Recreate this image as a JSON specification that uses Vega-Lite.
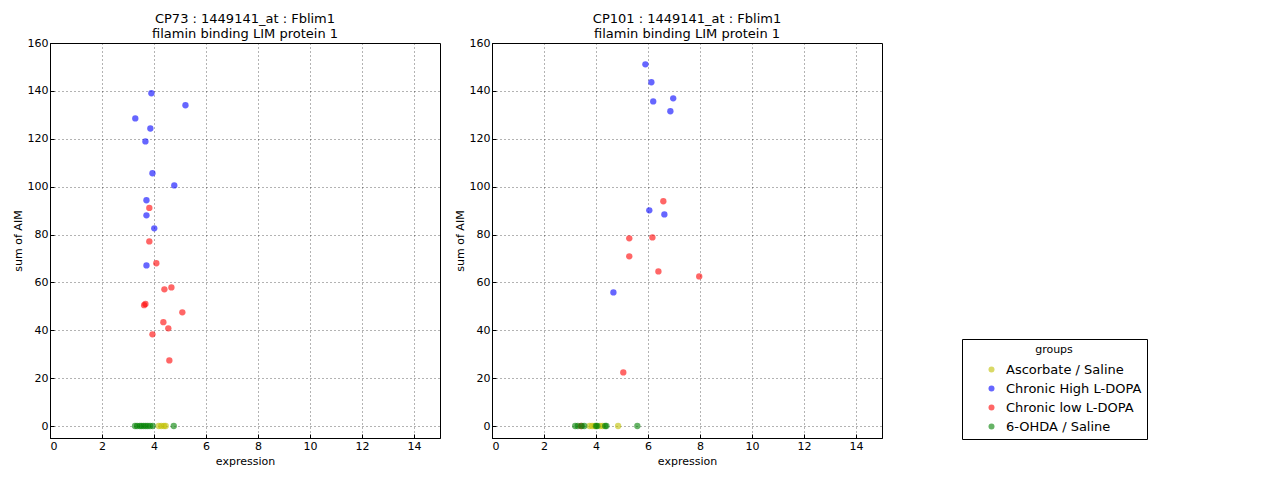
{
  "$schema": "https://vega.github.io/schema/vega-lite/v6.json",
  "background": "white",
  "padding": {"left": 11, "top": 12, "right": 5, "bottom": 5},
  "config": {
    "font": "DejaVu Sans",
    "view": {"stroke": "black", "strokeWidth": 1},
    "axis": {
      "domainColor": "black",
      "labelFont": "DejaVu Sans",
      "labelFontSize": 11,
      "labelColor": "black",
      "titleFont": "DejaVu Sans",
      "titleFontSize": 11,
      "titleFontWeight": "normal",
      "titleColor": "black",
      "gridColor": "black",
      "gridDash": [1, 3],
      "gridOpacity": 0.6,
      "tickColor": "black",
      "tickSize": -4,
      "labelPadding": 6
    },
    "axisY": {"titlePadding": 4},
    "title": {"font": "DejaVu Sans", "fontSize": 13, "fontWeight": "normal", "color": "black", "lineHeight": 15, "offset": -4},
    "concat": {"spacing": 12}
  },
  "data": {
    "values": [
      {"panel": "CP73", "group": "Chronic High L-DOPA", "expression": 3.90, "aim": 139.0},
      {"panel": "CP73", "group": "Chronic High L-DOPA", "expression": 5.21, "aim": 134.0},
      {"panel": "CP73", "group": "Chronic High L-DOPA", "expression": 3.28, "aim": 128.5},
      {"panel": "CP73", "group": "Chronic High L-DOPA", "expression": 3.86, "aim": 124.3},
      {"panel": "CP73", "group": "Chronic High L-DOPA", "expression": 3.67, "aim": 118.9},
      {"panel": "CP73", "group": "Chronic High L-DOPA", "expression": 3.94, "aim": 105.6},
      {"panel": "CP73", "group": "Chronic High L-DOPA", "expression": 4.78, "aim": 100.5},
      {"panel": "CP73", "group": "Chronic High L-DOPA", "expression": 3.71, "aim": 94.3},
      {"panel": "CP73", "group": "Chronic High L-DOPA", "expression": 3.71, "aim": 88.0},
      {"panel": "CP73", "group": "Chronic High L-DOPA", "expression": 4.01, "aim": 82.6},
      {"panel": "CP73", "group": "Chronic High L-DOPA", "expression": 3.71, "aim": 67.1},
      {"panel": "CP73", "group": "Chronic low L-DOPA", "expression": 3.82, "aim": 91.1},
      {"panel": "CP73", "group": "Chronic low L-DOPA", "expression": 3.82, "aim": 77.1},
      {"panel": "CP73", "group": "Chronic low L-DOPA", "expression": 4.09, "aim": 68.0},
      {"panel": "CP73", "group": "Chronic low L-DOPA", "expression": 4.67, "aim": 57.9},
      {"panel": "CP73", "group": "Chronic low L-DOPA", "expression": 4.40, "aim": 57.1},
      {"panel": "CP73", "group": "Chronic low L-DOPA", "expression": 3.62, "aim": 50.5},
      {"panel": "CP73", "group": "Chronic low L-DOPA", "expression": 3.67, "aim": 51.0},
      {"panel": "CP73", "group": "Chronic low L-DOPA", "expression": 5.09, "aim": 47.5},
      {"panel": "CP73", "group": "Chronic low L-DOPA", "expression": 4.36, "aim": 43.4},
      {"panel": "CP73", "group": "Chronic low L-DOPA", "expression": 4.55, "aim": 40.8},
      {"panel": "CP73", "group": "Chronic low L-DOPA", "expression": 3.94, "aim": 38.3},
      {"panel": "CP73", "group": "Chronic low L-DOPA", "expression": 4.59, "aim": 27.4},
      {"panel": "CP73", "group": "Ascorbate / Saline", "expression": 4.18, "aim": 0},
      {"panel": "CP73", "group": "Ascorbate / Saline", "expression": 4.28, "aim": 0},
      {"panel": "CP73", "group": "Ascorbate / Saline", "expression": 4.38, "aim": 0},
      {"panel": "CP73", "group": "Ascorbate / Saline", "expression": 4.45, "aim": 0},
      {"panel": "CP73", "group": "6-OHDA / Saline", "expression": 3.27, "aim": 0},
      {"panel": "CP73", "group": "6-OHDA / Saline", "expression": 3.35, "aim": 0},
      {"panel": "CP73", "group": "6-OHDA / Saline", "expression": 3.45, "aim": 0},
      {"panel": "CP73", "group": "6-OHDA / Saline", "expression": 3.52, "aim": 0},
      {"panel": "CP73", "group": "6-OHDA / Saline", "expression": 3.60, "aim": 0},
      {"panel": "CP73", "group": "6-OHDA / Saline", "expression": 3.68, "aim": 0},
      {"panel": "CP73", "group": "6-OHDA / Saline", "expression": 3.76, "aim": 0},
      {"panel": "CP73", "group": "6-OHDA / Saline", "expression": 3.85, "aim": 0},
      {"panel": "CP73", "group": "6-OHDA / Saline", "expression": 3.95, "aim": 0},
      {"panel": "CP73", "group": "6-OHDA / Saline", "expression": 4.76, "aim": 0},
      {"panel": "CP101", "group": "Chronic High L-DOPA", "expression": 5.90, "aim": 151.1},
      {"panel": "CP101", "group": "Chronic High L-DOPA", "expression": 6.13, "aim": 143.6},
      {"panel": "CP101", "group": "Chronic High L-DOPA", "expression": 6.20, "aim": 135.6},
      {"panel": "CP101", "group": "Chronic High L-DOPA", "expression": 6.97, "aim": 136.9},
      {"panel": "CP101", "group": "Chronic High L-DOPA", "expression": 6.86, "aim": 131.5},
      {"panel": "CP101", "group": "Chronic High L-DOPA", "expression": 6.05, "aim": 90.1},
      {"panel": "CP101", "group": "Chronic High L-DOPA", "expression": 6.63, "aim": 88.4},
      {"panel": "CP101", "group": "Chronic High L-DOPA", "expression": 4.67, "aim": 55.8},
      {"panel": "CP101", "group": "Chronic low L-DOPA", "expression": 6.59, "aim": 93.9},
      {"panel": "CP101", "group": "Chronic low L-DOPA", "expression": 5.28, "aim": 78.4},
      {"panel": "CP101", "group": "Chronic low L-DOPA", "expression": 6.17, "aim": 78.8},
      {"panel": "CP101", "group": "Chronic low L-DOPA", "expression": 5.28, "aim": 70.9},
      {"panel": "CP101", "group": "Chronic low L-DOPA", "expression": 6.40, "aim": 64.6},
      {"panel": "CP101", "group": "Chronic low L-DOPA", "expression": 7.97, "aim": 62.5},
      {"panel": "CP101", "group": "Chronic low L-DOPA", "expression": 5.05, "aim": 22.4},
      {"panel": "CP101", "group": "Chronic low L-DOPA", "expression": 3.42, "aim": 0},
      {"panel": "CP101", "group": "Ascorbate / Saline", "expression": 3.75, "aim": 0},
      {"panel": "CP101", "group": "Ascorbate / Saline", "expression": 3.85, "aim": 0},
      {"panel": "CP101", "group": "Ascorbate / Saline", "expression": 3.95, "aim": 0},
      {"panel": "CP101", "group": "Ascorbate / Saline", "expression": 4.15, "aim": 0},
      {"panel": "CP101", "group": "Ascorbate / Saline", "expression": 4.25, "aim": 0},
      {"panel": "CP101", "group": "Ascorbate / Saline", "expression": 4.85, "aim": 0},
      {"panel": "CP101", "group": "6-OHDA / Saline", "expression": 3.20, "aim": 0},
      {"panel": "CP101", "group": "6-OHDA / Saline", "expression": 3.30, "aim": 0},
      {"panel": "CP101", "group": "6-OHDA / Saline", "expression": 3.45, "aim": 0},
      {"panel": "CP101", "group": "6-OHDA / Saline", "expression": 3.55, "aim": 0},
      {"panel": "CP101", "group": "6-OHDA / Saline", "expression": 4.00, "aim": 0},
      {"panel": "CP101", "group": "6-OHDA / Saline", "expression": 4.05, "aim": 0},
      {"panel": "CP101", "group": "6-OHDA / Saline", "expression": 4.35, "aim": 0},
      {"panel": "CP101", "group": "6-OHDA / Saline", "expression": 4.40, "aim": 0},
      {"panel": "CP101", "group": "6-OHDA / Saline", "expression": 5.59, "aim": 0}
    ]
  },
  "hconcat": [
    {
      "width": 390,
      "height": 395,
      "title": {"text": ["CP73 : 1449141_at : Fblim1", "filamin binding LIM protein 1"]},
      "transform": [{"filter": "datum.panel === 'CP73'"}],
      "mark": {"type": "circle", "size": 40, "opacity": 0.6},
      "encoding": {
        "x": {"field": "expression", "type": "quantitative", "title": "expression",
              "scale": {"domain": [0, 15], "nice": false, "zero": false},
              "axis": {"values": [0, 2, 4, 6, 8, 10, 12, 14]}},
        "y": {"field": "aim", "type": "quantitative", "title": "sum of AIM",
              "scale": {"domain": [-5, 160], "nice": false, "zero": false},
              "axis": {"values": [0, 20, 40, 60, 80, 100, 120, 140, 160]}},
        "color": {"field": "group", "type": "nominal",
                  "scale": {"domain": ["Ascorbate / Saline", "Chronic High L-DOPA", "Chronic low L-DOPA", "6-OHDA / Saline"],
                            "range": ["#bfbf00", "#0000ff", "#ff0000", "#008000"]},
                  "legend": {"title": "groups", "orient": "none", "legendX": 912, "legendY": 296,
                             "strokeColor": "black", "fillColor": "white", "padding": 5,
                             "titleFontSize": 11, "titleFontWeight": "normal", "titleColor": "black",
                             "titleAnchor": "middle", "titleAlign": "center", "titleFont": "DejaVu Sans",
                             "titlePadding": 8,
                             "labelFontSize": 13, "labelColor": "black", "labelFont": "DejaVu Sans",
                             "symbolType": "circle", "symbolSize": 36, "symbolOpacity": 0.6,
                             "symbolOffset": 18, "labelOffset": 8,
                             "rowPadding": 5, "offset": 0}}
      }
    },
    {
      "width": 390,
      "height": 395,
      "title": {"text": ["CP101 : 1449141_at : Fblim1", "filamin binding LIM protein 1"]},
      "transform": [{"filter": "datum.panel === 'CP101'"}],
      "mark": {"type": "circle", "size": 40, "opacity": 0.6},
      "encoding": {
        "x": {"field": "expression", "type": "quantitative", "title": "expression",
              "scale": {"domain": [0, 15], "nice": false, "zero": false},
              "axis": {"values": [0, 2, 4, 6, 8, 10, 12, 14]}},
        "y": {"field": "aim", "type": "quantitative", "title": "sum of AIM",
              "scale": {"domain": [-5, 160], "nice": false, "zero": false},
              "axis": {"values": [0, 20, 40, 60, 80, 100, 120, 140, 160]}},
        "color": {"field": "group", "type": "nominal",
                  "scale": {"domain": ["Ascorbate / Saline", "Chronic High L-DOPA", "Chronic low L-DOPA", "6-OHDA / Saline"],
                            "range": ["#bfbf00", "#0000ff", "#ff0000", "#008000"]}}
      }
    }
  ]
}
